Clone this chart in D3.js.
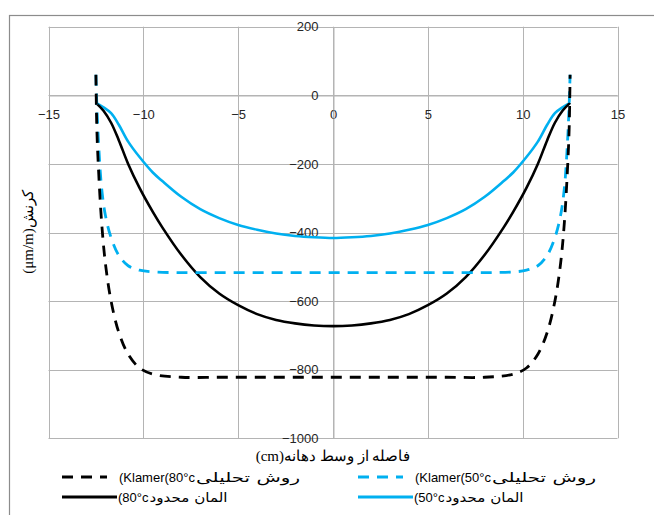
<!DOCTYPE html>
<html>
<head>
<meta charset="utf-8">
<script src="https://cdn.jsdelivr.net/npm/d3@7"></script>
<style>
  html, body { margin: 0; padding: 0; background: #fff; }
  svg { display: block; }
</style>
</head>
<body>
<svg id="chart" width="654" height="515"></svg>
<script>
// Strain across the span: analytical (Klamer) vs finite element, at 50°C and 80°C
const xTicks = [-15, -10, -5, 0, 5, 10, 15];
const yTicks = [200, 0, -200, -400, -600, -800, -1000];

// distance from mid-span (cm)
const xKlamer = [-12.5, -12.45, -12.35, -12.2, -12.0, -11.7, -11.3, -10.8, -10.2, -9.5, -8, -6, -4, -2, 0,
                 2, 4, 6, 8, 9.5, 10.2, 10.8, 11.3, 11.7, 12.0, 12.2, 12.35, 12.45, 12.5];
const klamer80 = [60, -100, -230, -370, -490, -600, -690, -755, -795, -813, -822, -822, -822, -822, -822,
                  -822, -822, -822, -822, -813, -795, -755, -690, -600, -490, -370, -230, -100, 60];
const klamer50 = [60, -30, -150, -270, -350, -415, -466, -497, -510, -515, -517, -517, -517, -517, -517,
                  -517, -517, -517, -517, -515, -510, -497, -466, -415, -350, -270, -150, -30, 60];

const xFem = [-12.5, -12.1, -11.7, -11.3, -10.8, -10.2, -9.5, -9, -8, -7, -6, -5, -4, -3, -2, -1, 0,
              1, 2, 3, 4, 5, 6, 7, 8, 9, 9.5, 10.2, 10.8, 11.3, 11.7, 12.1, 12.5];
const fem80 = [-22, -45, -80, -130, -200, -270, -340, -385, -465, -530, -578, -612, -638, -655, -665, -671, -673,
               -671, -665, -655, -638, -612, -578, -530, -465, -385, -340, -270, -200, -130, -80, -45, -22];
const fem50 = [-22, -35, -52, -85, -135, -180, -225, -250, -296, -332, -358, -378, -392, -403, -410, -414, -416,
               -414, -410, -403, -392, -378, -358, -332, -296, -250, -225, -180, -135, -85, -52, -35, -22];

const seriesNames = [
  { latin: "(Klamer(80°c", fa: "روش تحلیلی" },
  { latin: "(Klamer(50°c", fa: "روش تحلیلی" },
  { latin: "(80°c", fa: "المان محدود" },
  { latin: "(50°c", fa: "المان محدود" }
];
const xTitle = "(cm)فاصله از وسط دهانه";
const yTitle = "(μm/m)کرنش";

const blue = "#00b0f0";
const black = "#000000";
const gridColor = "#b4b4b4";

const svg = d3.select("#chart");

// outer frame (extends past the right and bottom edges)
svg.append("rect")
  .attr("x", 9.5).attr("y", 15.5)
  .attr("width", 700).attr("height", 600)
  .attr("fill", "none").attr("stroke", "#8c8c8c").attr("stroke-width", 1.2);

const x = d3.scaleLinear().domain([-15, 15]).range([48.5, 617.5]);
const y = d3.scaleLinear().domain([-1000, 200]).range([438.3, 26.7]);

const grid = svg.append("g");
// vertical gridlines
grid.selectAll("line.v").data(xTicks).join("line")
  .attr("x1", d => Math.round(x(d)) + 0.5).attr("x2", d => Math.round(x(d)) + 0.5)
  .attr("y1", y(200)).attr("y2", y(-1000))
  .attr("stroke", gridColor).attr("stroke-width", 1);
// horizontal gridlines
grid.selectAll("line.h").data(yTicks).join("line")
  .attr("y1", d => Math.round(y(d)) + 0.5).attr("y2", d => Math.round(y(d)) + 0.5)
  .attr("x1", x(-15)).attr("x2", x(15))
  .attr("stroke", gridColor).attr("stroke-width", 1);

// x-axis through y = 0, labels under the line
const xAxis = d3.axisBottom(x).tickValues(xTicks).tickSize(0).tickPadding(14)
  .tickFormat(d3.format("d"));
const gx = svg.append("g").attr("transform", `translate(0,${Math.round(y(0)) + 0.5})`).call(xAxis);
gx.select(".domain").attr("stroke", gridColor);
gx.selectAll("text").attr("font-family", "Liberation Sans, Arial, sans-serif")
  .attr("font-size", 13).attr("fill", "#262626");

// y-axis through x = 0, labels to the left of the line
const yAxis = d3.axisLeft(y).tickValues(yTicks).tickSize(0).tickPadding(15)
  .tickFormat(d3.format("d"));
const gy = svg.append("g").attr("transform", `translate(${Math.round(x(0)) + 0.5},0)`).call(yAxis);
gy.select(".domain").attr("stroke", gridColor);
gy.selectAll("text").attr("font-family", "Liberation Sans, Arial, sans-serif")
  .attr("font-size", 13).attr("fill", "#262626");

const line = d3.line().x(d => x(d[0])).y(d => y(d[1])).curve(d3.curveCatmullRom.alpha(0.5));
const zip = (xs, ys) => xs.map((v, i) => [v, ys[i]]);

const plot = svg.append("g");
plot.append("path").datum(zip(xFem, fem50)).attr("d", line)
  .attr("fill", "none").attr("stroke", blue).attr("stroke-width", 2.6);
plot.append("path").datum(zip(xFem, fem80)).attr("d", line)
  .attr("fill", "none").attr("stroke", black).attr("stroke-width", 2.6);
plot.append("path").datum(zip(xKlamer, klamer50)).attr("d", line)
  .attr("fill", "none").attr("stroke", blue).attr("stroke-width", 2.8)
  .attr("stroke-dasharray", "11,8");
plot.append("path").datum(zip(xKlamer, klamer80)).attr("d", line)
  .attr("fill", "none").attr("stroke", black).attr("stroke-width", 2.8)
  .attr("stroke-dasharray", "11,8");

// axis titles
svg.append("text")
  .attr("x", x(0)).attr("y", 461)
  .attr("text-anchor", "middle")
  .attr("font-family", "Liberation Serif, Times New Roman, serif")
  .attr("font-size", 15).attr("fill", "#000")
  .text(xTitle);

svg.append("text")
  .attr("transform", "translate(33,232) rotate(-90)")
  .attr("text-anchor", "middle")
  .attr("font-family", "Liberation Serif, Times New Roman, serif")
  .attr("font-size", 15).attr("fill", "#000")
  .text(yTitle);

// legend
const legendItems = [
  { name: seriesNames[0], color: black, dash: "11,8", lx: 62, ly: 477, faWidth: 104 },
  { name: seriesNames[1], color: blue, dash: "11,8", lx: 358, ly: 477, faWidth: 104 },
  { name: seriesNames[2], color: black, dash: null, lx: 62, ly: 497, faWidth: 78 },
  { name: seriesNames[3], color: blue, dash: null, lx: 358, ly: 497, faWidth: 78 }
];
const lg = svg.append("g").selectAll("g").data(legendItems).join("g")
  .attr("transform", d => `translate(${d.lx},${d.ly})`);
lg.append("line")
  .attr("x1", 0).attr("x2", d => d.dash ? 45 : 55)
  .attr("y1", 0).attr("y2", 0)
  .attr("stroke", d => d.color).attr("stroke-width", 2.8)
  .attr("stroke-dasharray", d => d.dash);
lg.each(function(d) {
  const g = d3.select(this);
  const lat = g.append("text")
    .attr("x", d.dash ? 57 : 56).attr("y", 5)
    .attr("font-family", "Liberation Sans, Arial, sans-serif")
    .attr("font-size", 13).attr("fill", "#000")
    .text(d.name.latin);
  const w = lat.node().getComputedTextLength();
  g.append("text")
    .attr("x", (d.dash ? 57 : 56) + w + 1).attr("y", 5)
    .attr("font-family", "DejaVu Sans, sans-serif")
    .attr("font-size", 13).attr("fill", "#000")
    .attr("textLength", d.faWidth).attr("lengthAdjust", "spacingAndGlyphs")
    .text(d.name.fa);
});
</script>
</body>
</html>
